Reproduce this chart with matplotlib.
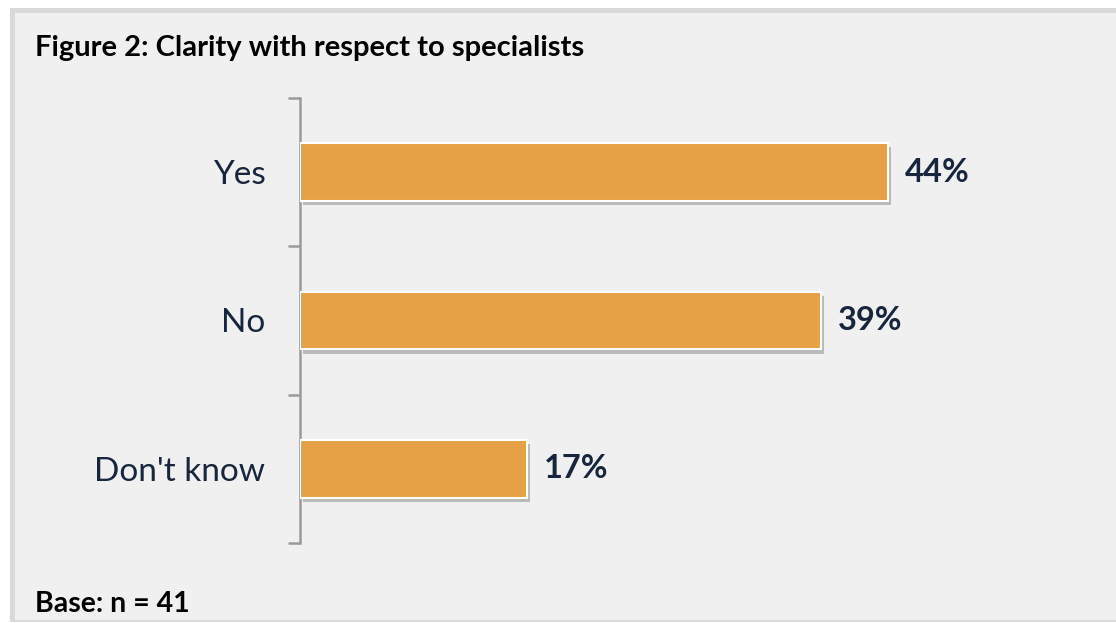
import matplotlib
matplotlib.use("Agg")
import matplotlib.pyplot as plt
import matplotlib.patheffects as pe
from matplotlib.patches import Rectangle

plt.rcParams['font.family'] = ['Lato', 'DejaVu Sans']

categories = ["Yes", "No", "Don't know"]
shares = [44, 39, 17]
value_labels = ["44%", "39%", "17%"]

W, H = 1116, 623
fig = plt.figure(figsize=(W / 100, H / 100), dpi=100)
fig.patch.set_facecolor('white')

# panel frame: darker band on the left/top, light fill inside
def px_rect(x0, y0, x1, y1, color):
    fig.patches.append(Rectangle((x0 / W, 1 - y1 / H), (x1 - x0) / W, (y1 - y0) / H,
                                 transform=fig.transFigure, facecolor=color,
                                 edgecolor='none', zorder=-5))

px_rect(10, 8, W, 622, '#d9d9d9')
px_rect(15, 13, W, 620, '#f0f0f0')

ax = fig.add_axes([300 / W, 1 - 543 / H, (W - 300) / W, (543 - 98) / H])
ax.set_facecolor('none')
ax.set_zorder(2)

y = list(range(len(categories)))
bars = ax.barh(y, shares, height=0.39, color='#e6a045', edgecolor='white', linewidth=1.5,
               zorder=3)
for b in bars:
    b.set_path_effects([pe.SimplePatchShadow(offset=(2, -3), shadow_rgbFace='#7a7a7a', alpha=0.45),
                        pe.Normal()])

for yi, v, lab in zip(y, shares, value_labels):
    ax.annotate(lab, (v, yi), xytext=(12, 0), textcoords='offset points',
                va='center', ha='left', fontsize=23.5, fontweight='bold', color='#17263d')

ax.set_xlim(0, (W - 300) / 13.36)
ax.set_ylim(len(categories) - 0.5, -0.5)

for side in ['top', 'right', 'bottom']:
    ax.spines[side].set_visible(False)
ax.spines['left'].set_color('#9a9a9a')
ax.spines['left'].set_linewidth(1.8)

ax.set_xticks([])
ax.set_yticks(y)
ax.set_yticklabels(categories)
ax.set_yticks([-0.5, 0.5, 1.5, 2.5], minor=True)
ax.tick_params(axis='y', which='major', length=0, pad=25, labelsize=24, labelcolor='#17263d')
ax.tick_params(axis='y', which='minor', length=9, width=1.8, color='#9a9a9a')

fig.text(35 / W, 1 - 48 / H, "Figure 2: Clarity with respect to specialists",
         fontsize=21, fontweight='bold', color='black', va='center', ha='left')
fig.text(35 / W, 1 - 604 / H, "Base: n = 41",
         fontsize=20.5, fontweight='bold', color='black', va='center', ha='left')

fig.savefig('out.png', dpi=100)
